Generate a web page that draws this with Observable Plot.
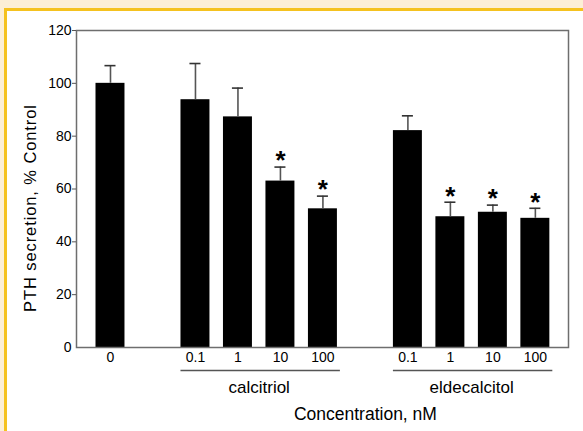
<!DOCTYPE html>
<html>
<head>
<meta charset="utf-8">
<script src="https://cdn.jsdelivr.net/npm/d3@7"></script>
<script src="https://cdn.jsdelivr.net/npm/@observablehq/plot@0.6"></script>
<style>
  html, body { margin: 0; padding: 0; }
  body { width: 583px; height: 431px; background: #fcefd6; position: relative; overflow: hidden;
         font-family: "Liberation Sans", Arial, sans-serif; }
  #panel { position: absolute; left: 4px; top: 8px; right: 0; bottom: 0;
           border-left: 3px solid #f5c21f; border-top: 3px solid #f5c21f; background: #fff; }
  #panel svg { display: block; }
  .ylab text { letter-spacing: 0.9px; }
</style>
</head>
<body>
<div id="panel"></div>
<script>
// ---- data ----
const groups = ["control", "calcitriol", "eldecalcitol"];
const groupLabels = ["", "calcitriol", "eldecalcitol"];
const concentrations = [["0"], ["0.1", "1", "10", "100"], ["0.1", "1", "10", "100"]];
const means = [[100], [93.8, 87.3, 63.0, 52.5], [82.1, 49.5, 51.2, 48.9]];
const errors = [[6.7], [13.7, 10.9, 5.3, 4.8], [5.6, 5.5, 2.7, 3.8]];
const significant = [[false], [false, false, true, true], [false, true, true, true]];
const yTicks = [0, 20, 40, 60, 80, 100, 120];
const yLabel = "PTH secretion, % Control";
const xLabel = "Concentration, nM";

// ---- build table (one empty slot between groups) ----
const bars = [];
let slot = 0;
groups.forEach((g, gi) => {
  concentrations[gi].forEach((c, ci) => {
    bars.push({group: g, conc: c, slot, mean: means[gi][ci], err: errors[gi][ci],
               top: means[gi][ci] + errors[gi][ci], sig: significant[gi][ci]});
    slot++;
  });
  slot++; // gap
});
const groupSpans = groups.map((g, gi) => {
  const s = bars.filter(d => d.group === g).map(d => d.slot);
  return {group: g, label: groupLabels[gi], s1: d3.min(s), s2: d3.max(s), mid: d3.mean(s)};
}).filter(d => d.label);
const treated = bars.filter(d => d.group !== "control").map(d => d.slot);
const xLabelRow = [{text: xLabel, x: d3.mean(treated)}];
const labelOf = new Map(bars.map(d => [d.slot, d.conc]));

const half = 0.341;   // bar half width, in slots
const cap = 0.13;     // error cap half width, in slots
const lastSlot = d3.max(bars, d => d.slot);

const chart = Plot.plot({
  width: 576,
  height: 420,
  marginLeft: 69,
  marginTop: 19,
  marginRight: 15,
  marginBottom: 84,
  style: {fontFamily: "'Liberation Sans', Arial, sans-serif", color: "#000", background: "transparent"},
  x: {type: "linear", domain: [-0.8, lastSlot + 0.78], axis: null},
  y: {domain: [0, 120], axis: null},
  marks: [
    Plot.rectY(bars, {x1: d => d.slot - half, x2: d => d.slot + half, y1: 0, y2: "mean", fill: "#000"}),
    Plot.ruleX(bars, {x: "slot", y1: "mean", y2: "top", stroke: "#555", strokeWidth: 1.6}),
    Plot.ruleY(bars, {x1: d => d.slot - cap, x2: d => d.slot + cap, y: "top", stroke: "#333", strokeWidth: 1.6}),
    Plot.text(bars.filter(d => d.sig), {x: "slot", y: "top", text: () => "*", fontSize: 26, fontWeight: "bold", dy: -6}),
    Plot.frame({stroke: "#6e6e6e", strokeWidth: 1.5}),
    Plot.axisY({ticks: yTicks, tickSize: 0, tickPadding: 5, fontSize: 14, label: null}),
    Plot.axisY({ticks: yTicks.slice(1), tickSize: 4, tickFormat: () => "", stroke: "#555", label: null}),
    Plot.axisX({ticks: bars.map(d => d.slot), tickFormat: s => labelOf.get(s), tickSize: 0, tickPadding: 5, fontSize: 14, label: null}),
    Plot.ruleY(groupSpans, {x1: d => d.s1 - half, x2: d => d.s2 + half + 0.07, y: () => 0, dy: 23, stroke: "#555", strokeWidth: 1.5}),
    Plot.text(groupSpans, {x: "mid", y: () => 0, text: "label", fontSize: 17, lineAnchor: "bottom", dy: 45}),
    Plot.text(xLabelRow, {x: "x", y: () => 0, text: "text", fontSize: 17.5, lineAnchor: "bottom", dy: 72}),
    Plot.text([yLabel], {frameAnchor: "left", text: d => d, rotate: -90, textAnchor: "middle", fontSize: 16.5, dx: -46, dy: 19, className: "ylab"})
  ]
});
document.getElementById("panel").appendChild(chart);
</script>
</body>
</html>
